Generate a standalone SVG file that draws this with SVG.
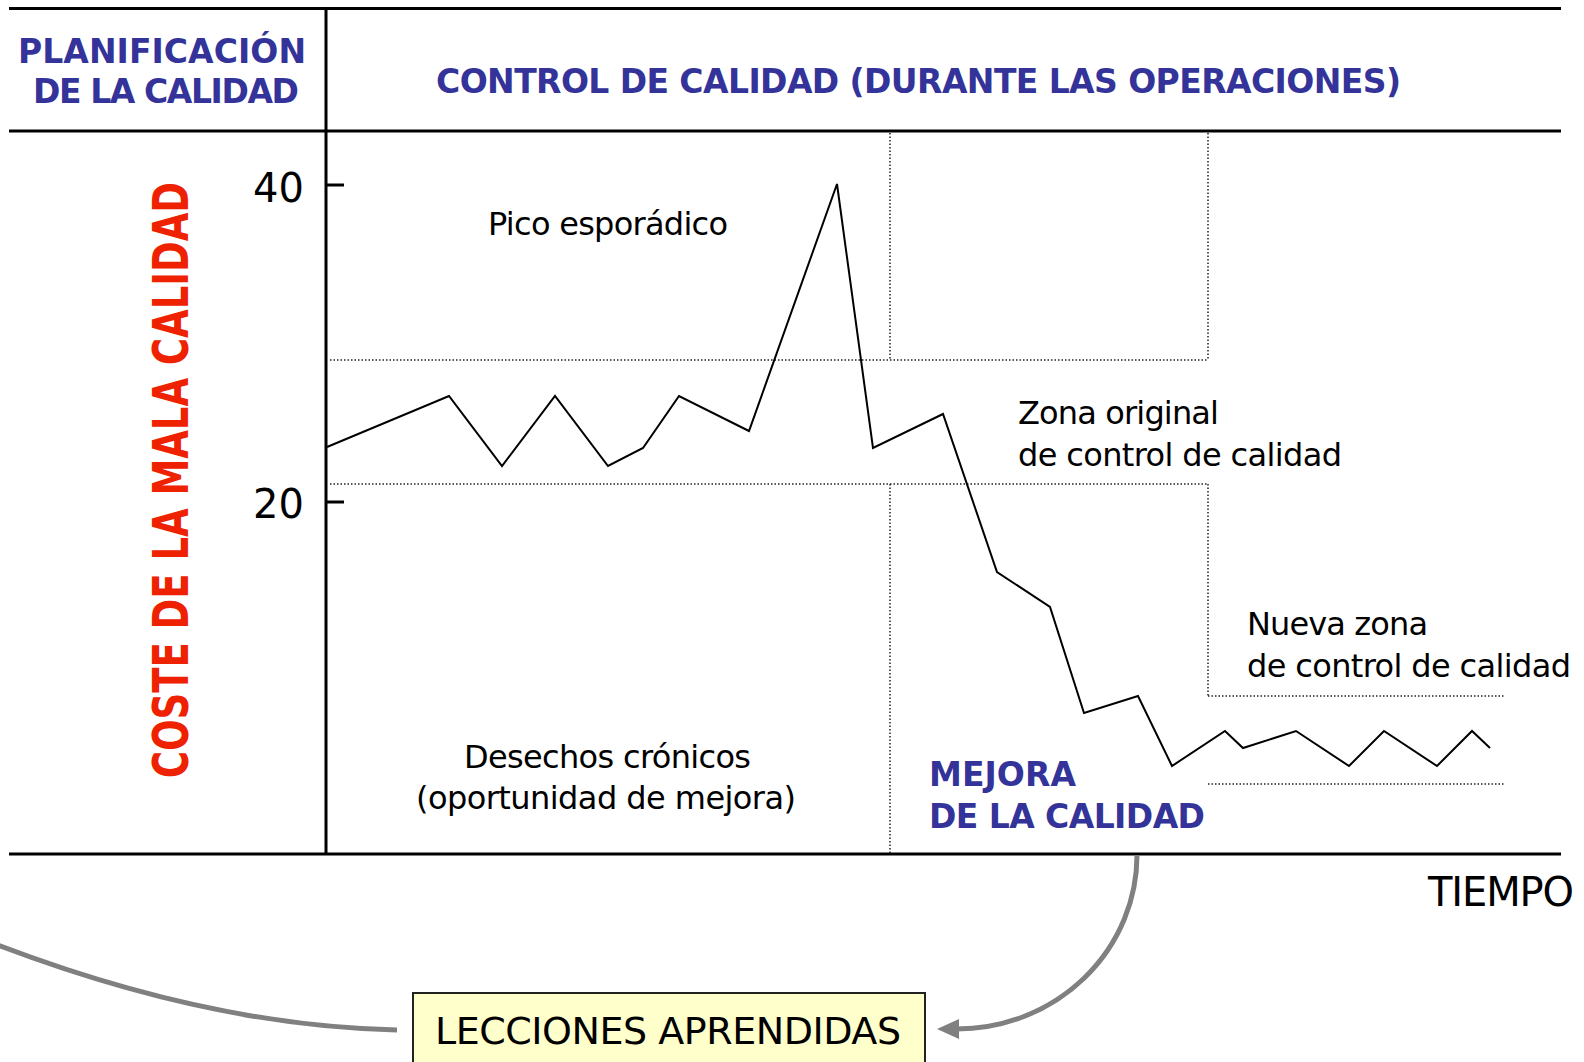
<svg xmlns="http://www.w3.org/2000/svg" width="1584" height="1062" viewBox="0 0 1584 1062">
  <style>
    .rule { stroke: #000; stroke-width: 3; fill: none; }
    .dot { stroke: #222; stroke-width: 1.5; stroke-dasharray: 1.5 2; fill: none; }
    .data { stroke: #000; stroke-width: 2; fill: none; stroke-linejoin: miter; }
    .hdr { font-family: "DejaVu Sans", Verdana, sans-serif; font-weight: bold; font-size: 33px; fill: #333399; }
    .lbl { font-family: "DejaVu Sans", Verdana, sans-serif; font-size: 32px; fill: #000; }
    .num { font-family: "DejaVu Sans", Verdana, sans-serif; font-size: 40px; fill: #000; }
    .ylab { font-family: "DejaVu Sans", Verdana, sans-serif; font-weight: bold; font-size: 49px; fill: #EE2200; }
    .conn { stroke: #808080; stroke-width: 5; fill: none; }
  </style>
  <defs>
    <marker id="ah" markerUnits="userSpaceOnUse" markerWidth="22" markerHeight="22" viewBox="0 0 22 20" refX="2" refY="10" orient="auto">
      <path d="M0,0 L22,10 L0,20 z" fill="#808080"/>
    </marker>
  </defs>
  <rect x="0" y="0" width="1584" height="1062" fill="#fff"/>

  <g id="frame">
    <line class="rule" x1="9" y1="8.5" x2="1561" y2="8.5"/>
    <line class="rule" x1="9" y1="131" x2="1561" y2="131"/>
    <line class="rule" x1="326" y1="8" x2="326" y2="855"/>
    <line class="rule" x1="9" y1="854" x2="1561" y2="854"/>
    <line class="rule" x1="326" y1="185" x2="344" y2="185"/>
    <line class="rule" x1="326" y1="502" x2="344" y2="502"/>
  </g>

  <g id="header-planificacion">
    <text class="hdr" x="18" y="63" textLength="288" lengthAdjust="spacing">PLANIFICACIÓN</text>
    <text class="hdr" x="33" y="103" textLength="266" lengthAdjust="spacing">DE LA CALIDAD</text>
  </g>
  <g id="header-control">
    <text class="hdr" x="436" y="93" textLength="965" lengthAdjust="spacing">CONTROL DE CALIDAD (DURANTE LAS OPERACIONES)</text>
  </g>

  <g id="y-axis-label">
    <text class="ylab" transform="translate(188,778) rotate(-90)" x="0" y="0" textLength="596" lengthAdjust="spacingAndGlyphs">COSTE DE LA MALA CALIDAD</text>
    <text class="num" x="304" y="202" text-anchor="end">40</text>
    <text class="num" x="304" y="518" text-anchor="end">20</text>
  </g>

  <g id="zones">
    <line class="dot" x1="330" y1="360" x2="1208" y2="360"/>
    <line class="dot" x1="330" y1="484" x2="1208" y2="484"/>
    <line class="dot" x1="890" y1="133" x2="890" y2="360"/>
    <line class="dot" x1="1208" y1="133" x2="1208" y2="360"/>
    <line class="dot" x1="890" y1="484" x2="890" y2="853"/>
    <line class="dot" x1="1208" y1="484" x2="1208" y2="696"/>
    <line class="dot" x1="1208" y1="696" x2="1505" y2="696"/>
    <line class="dot" x1="1208" y1="784" x2="1505" y2="784"/>
  </g>

  <g id="cost-curve">
    <polyline class="data" points="327,447 449,396 502,466 555,396 608,466 643,448 679,396 749,431 837,184 873,448 943,414 997,572 1050,607 1084,713 1138,696 1172,766 1225,731 1243,748 1296,731 1349,766 1384,731 1437,766 1472,731 1490,748"/>
  </g>

  <g id="zone-labels">
    <text class="lbl" x="488" y="235" textLength="240" lengthAdjust="spacing">Pico esporádico</text>
    <text class="lbl" x="1018" y="424" textLength="201" lengthAdjust="spacing">Zona original</text>
    <text class="lbl" x="1018" y="466" textLength="324" lengthAdjust="spacing">de control de calidad</text>
    <text class="lbl" x="1247" y="635" textLength="181" lengthAdjust="spacing">Nueva zona</text>
    <text class="lbl" x="1247" y="677" textLength="324" lengthAdjust="spacing">de control de calidad</text>
    <text class="lbl" x="464" y="768" textLength="287" lengthAdjust="spacing">Desechos crónicos</text>
    <text class="lbl" x="416" y="809" textLength="380" lengthAdjust="spacing">(oportunidad de mejora)</text>
  </g>

  <g id="mejora">
    <text class="hdr" x="929" y="786" font-size="34" textLength="147" lengthAdjust="spacing">MEJORA</text>
    <text class="hdr" x="929" y="828" font-size="34" textLength="276" lengthAdjust="spacing">DE LA CALIDAD</text>
  </g>

  <g id="tiempo">
    <text class="num" x="1428" y="906" textLength="146" lengthAdjust="spacing">TIEMPO</text>
  </g>

  <g id="connectors">
    <path class="conn" d="M -5,944 C 110,988 250,1027 397,1030"/>
    <path class="conn" d="M 1137,855 A 180,174 0 0 1 957,1029" marker-end="url(#ah)"/>
  </g>

  <g id="lecciones">
    <rect x="413" y="993" width="512" height="80" fill="#FFFFCC" stroke="#222" stroke-width="2"/>
    <text x="435" y="1044" font-family="'DejaVu Sans', Verdana, sans-serif" font-size="38" fill="#000" textLength="466" lengthAdjust="spacing">LECCIONES APRENDIDAS</text>
  </g>
</svg>
